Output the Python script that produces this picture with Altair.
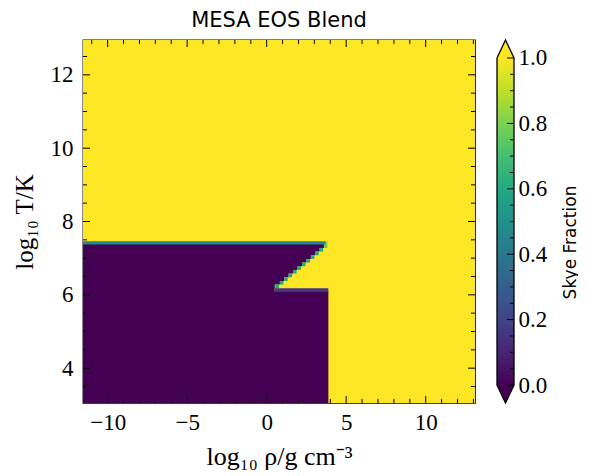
import altair as alt
import pandas as pd

# ---------------- data ----------------
rho_domain = [-11.55, 13.1]
logT_domain = [3.05, 12.95]

# background (Skye everywhere), low-rho/low-T block, staircase rows, blend bands
rect_rho_lo = [-11.55, -11.55,
               -11.55, -11.55, -11.55, -11.55, -11.55, -11.55, -11.55, -11.55, -11.55, -11.55, -11.55, -11.55, -11.55,
               0.50, 0.55, 0.83, 1.10, 1.38, 1.66, 1.94, 2.22, 2.50, 2.78, 3.05, 3.33, 3.60,
               0.50, -11.55, 3.72]
rect_rho_hi = [13.10, 3.88,
               0.50, 0.55, 0.83, 1.10, 1.38, 1.66, 1.94, 2.22, 2.50, 2.78, 3.05, 3.33, 3.60,
               0.72, 0.78, 1.05, 1.32, 1.60, 1.88, 2.16, 2.44, 2.72, 3.00, 3.27, 3.55, 3.82,
               3.88, 3.72, 3.84]
rect_T_lo = [3.05, 3.05,
             6.04, 6.18, 6.28, 6.38, 6.48, 6.58, 6.68, 6.78, 6.88, 6.98, 7.08, 7.18, 7.28,
             6.18, 6.18, 6.28, 6.38, 6.48, 6.58, 6.68, 6.78, 6.88, 6.98, 7.08, 7.18, 7.28,
             6.08, 7.37, 7.37]
rect_T_hi = [12.95, 6.10,
             7.40, 7.40, 7.40, 7.40, 7.40, 7.40, 7.40, 7.40, 7.40, 7.40, 7.40, 7.40, 7.40,
             6.28, 6.28, 6.38, 6.48, 6.58, 6.68, 6.78, 6.88, 6.98, 7.08, 7.18, 7.28, 7.37,
             6.18, 7.46, 7.46]
rect_frac = [1.0, 0.0,
             0.0, 0.0, 0.0, 0.0, 0.0, 0.0, 0.0, 0.0, 0.0, 0.0, 0.0, 0.0, 0.0,
             0.75, 0.6, 0.6, 0.6, 0.6, 0.6, 0.6, 0.6, 0.6, 0.6, 0.6, 0.6, 0.75,
             0.15, 0.45, 0.85]

x_major = [-10, -5, 0, 5, 10]
x_minor = [-11, -9, -8, -7, -6, -4, -3, -2, -1, 1, 2, 3, 4, 6, 7, 8, 9, 11, 12, 13]
y_major = [4, 6, 8, 10, 12]
y_minor = [3.5, 4.5, 5, 5.5, 6.5, 7, 7.5, 8.5, 9, 9.5, 10.5, 11, 11.5, 12.5]

cb_major = [0.0, 0.2, 0.4, 0.6, 0.8, 1.0]
cb_minor = [0.05, 0.1, 0.15, 0.25, 0.3, 0.35, 0.45, 0.5, 0.55, 0.65, 0.7, 0.75, 0.85, 0.9, 0.95]
cb_extend = 0.055
viridis_stops = ["#440154", "#482475", "#414487", "#355f8d", "#2a788e", "#21918c",
                 "#22a884", "#44bf70", "#7ad151", "#bddf26", "#fde725"]

W, H = 392, 363
CBW = 17
SERIF = "Liberation Serif"
SANS = "DejaVu Sans"

# ---------------- main map ----------------
rects = pd.DataFrame({"rho_lo": rect_rho_lo, "rho_hi": rect_rho_hi,
                      "T_lo": rect_T_lo, "T_hi": rect_T_hi, "frac": rect_frac})
rects["order"] = range(len(rects))

xscale = alt.Scale(domain=rho_domain, nice=False, zero=False)
yscale = alt.Scale(domain=logT_domain, nice=False, zero=False)

xaxis = alt.Axis(values=x_major, ticks=False, domain=False, grid=False, labelFont=SERIF,
                 labelFontSize=23, labelColor="black", labelPadding=8,
                 title="log₁₀ ρ/g cm⁻³", titleFont=SERIF, titleFontSize=26,
                 titleFontWeight="normal", titleColor="black", titlePadding=9)
yaxis = alt.Axis(values=y_major, ticks=False, domain=False, grid=False, labelFont=SERIF,
                 labelFontSize=23, labelColor="black", labelPadding=10,
                 title="log₁₀ T/K", titleFont=SERIF, titleFontSize=25,
                 titleFontWeight="normal", titleColor="black", titlePadding=13)

heat = alt.Chart(rects).mark_rect(strokeWidth=0).encode(
    x=alt.X("rho_lo:Q", scale=xscale, axis=xaxis),
    x2="rho_hi:Q",
    y=alt.Y("T_lo:Q", scale=yscale, axis=yaxis),
    y2="T_hi:Q",
    color=alt.Color("frac:Q", scale=alt.Scale(scheme="viridis", domain=[0, 1]), legend=None),
    order="order:Q",
)

xt_major = pd.DataFrame({"t": x_major})
xt_minor = pd.DataFrame({"t": x_minor})
yt_major = pd.DataFrame({"t": y_major})
yt_minor = pd.DataFrame({"t": y_minor})

def xticks(df, length):
    bottom = alt.Chart(df).mark_rule(color="black", strokeWidth=1).encode(
        x=alt.X("t:Q", scale=xscale, axis=xaxis), y=alt.value(H), y2=alt.value(H - length))
    top = alt.Chart(df).mark_rule(color="black", strokeWidth=1).encode(
        x=alt.X("t:Q", scale=xscale, axis=xaxis), y=alt.value(0), y2=alt.value(length))
    return [bottom, top]

def yticks(df, length):
    left = alt.Chart(df).mark_rule(color="black", strokeWidth=1).encode(
        y=alt.Y("t:Q", scale=yscale, axis=yaxis), x=alt.value(0), x2=alt.value(length))
    right = alt.Chart(df).mark_rule(color="black", strokeWidth=1).encode(
        y=alt.Y("t:Q", scale=yscale, axis=yaxis), x=alt.value(W), x2=alt.value(W - length))
    return [left, right]

main = alt.layer(
    heat,
    *xticks(xt_major, 7), *xticks(xt_minor, 4),
    *yticks(yt_major, 7), *yticks(yt_minor, 4),
).properties(
    width=W, height=H,
    title=alt.TitleParams("MESA EOS Blend", font=SANS, fontSize=21, fontWeight="normal",
                          color="black", anchor="middle", offset=9),
    view=alt.ViewBackground(stroke="black", strokeWidth=1.3),
)

# ---------------- colour bar ----------------
cbscale = alt.Scale(domain=[-cb_extend, 1 + cb_extend], nice=False, zero=False)
cbx = alt.Scale(domain=[0, 1], nice=False, zero=False)
cbaxis = alt.Axis(orient="right", values=cb_major, format=".1f", ticks=False,
                  domain=False, grid=False, labelFont=SERIF, labelFontSize=23,
                  labelColor="black", labelPadding=4,
                  title="Skye Fraction", titleFont=SANS, titleFontSize=17,
                  titleFontWeight="normal", titleColor="black", titleAngle=270,
                  titleX=56, titleY=202, titleAlign="center", titleBaseline="middle")

bar_df = pd.DataFrame({"x0": [0.0], "x1": [1.0], "v0": [0.0], "v1": [1.0]})
bar = alt.Chart(bar_df).mark_rect(
    fill=alt.Gradient(gradient="linear",
                      stops=[alt.GradientStop(color=c, offset=i / 10) for i, c in enumerate(viridis_stops)],
                      x1=0, x2=0, y1=1, y2=0),
    strokeWidth=0,
).encode(
    x=alt.X("x0:Q", scale=cbx, axis=None), x2="x1:Q",
    y=alt.Y("v0:Q", scale=cbscale, axis=cbaxis),
    y2="v1:Q",
)

top_tri = pd.DataFrame({"x": [0, 0.5, 1], "v": [1, 1 + cb_extend, 1], "b": [1, 1, 1]})
bot_tri = pd.DataFrame({"x": [0, 0.5, 1], "v": [0, -cb_extend, 0], "b": [0, 0, 0]})
tri_top = alt.Chart(top_tri).mark_area(color=viridis_stops[-1]).encode(
    x=alt.X("x:Q", scale=cbx, axis=None), y=alt.Y("v:Q", scale=cbscale, axis=cbaxis), y2="b:Q")
tri_bot = alt.Chart(bot_tri).mark_area(color=viridis_stops[0]).encode(
    x=alt.X("x:Q", scale=cbx, axis=None), y=alt.Y("v:Q", scale=cbscale, axis=cbaxis), y2="b:Q")

outline_df = pd.DataFrame({"x": [0, 0.5, 1, 1, 0.5, 0, 0],
                           "v": [1, 1 + cb_extend, 1, 0, -cb_extend, 0, 1],
                           "i": list(range(7))})
outline = alt.Chart(outline_df).mark_line(color="black", strokeWidth=1.3).encode(
    x=alt.X("x:Q", scale=cbx, axis=None), y=alt.Y("v:Q", scale=cbscale, axis=cbaxis),
    order="i:Q")

cbt_major = alt.Chart(pd.DataFrame({"t": cb_major})).mark_rule(color="black").encode(
    y=alt.Y("t:Q", scale=cbscale, axis=cbaxis), x=alt.value(CBW), x2=alt.value(CBW - 7))
cbt_minor = alt.Chart(pd.DataFrame({"t": cb_minor})).mark_rule(color="black").encode(
    y=alt.Y("t:Q", scale=cbscale, axis=cbaxis), x=alt.value(CBW), x2=alt.value(CBW - 4))

cbar = alt.layer(bar, tri_top, tri_bot, cbt_major, cbt_minor, outline).properties(
    width=CBW, height=H, view=alt.ViewBackground(stroke=None))

chart = alt.hconcat(main, cbar, spacing=17).properties(
    background="white", padding={"left": 3, "top": 0, "right": 0, "bottom": 0})

chart.save("out.html", embed_options={"renderer": "svg", "actions": False})
